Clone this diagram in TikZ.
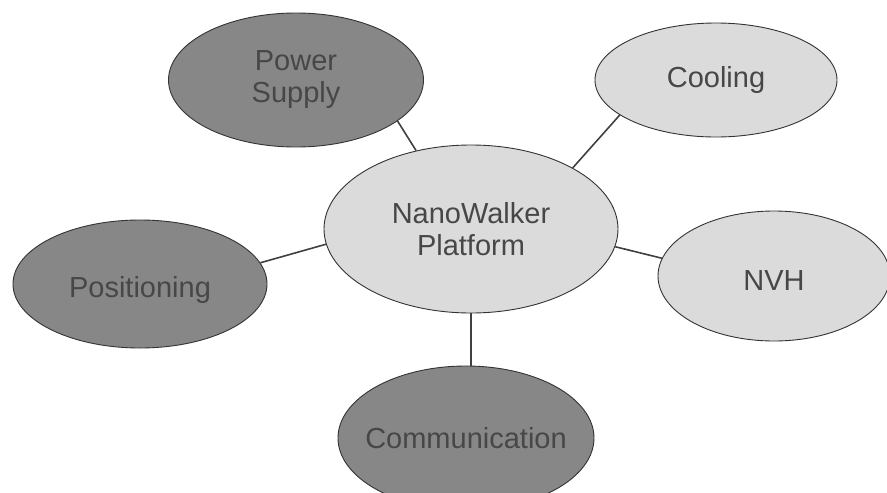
\documentclass[tikz,border=0pt]{standalone}
\usepackage{fontspec}
\setmainfont{Liberation Sans}
\usetikzlibrary{shapes.geometric}

\begin{document}
\begin{tikzpicture}[
  x=1pt, y=-1pt,
  bubble/.style={draw=black!80, ellipse, line width=0.9pt, inner sep=0pt},
  dark/.style={bubble, fill=black!47},
  light/.style={bubble, fill=black!14},
  txt/.style={align=center, text=black!72, font=\fontsize{29}{32}\selectfont},
  link/.style={line width=1.6pt, draw=black!75}
]
\useasboundingbox (0,0) rectangle (887,493);
\clip (0,0) rectangle (887,493);
\node[light, minimum width=294pt, minimum height=168pt, label={[txt]center:{NanoWalker\\Platform}}] (hub) at (471,229) {};
\node[dark, minimum width=255pt, minimum height=134pt, label={[txt]center:{Power\\Supply}}] (power) at (296,80) {};
\node[light, minimum width=242pt, minimum height=114pt, label={[txt]center:Cooling}] (cool) at (716,80) {};
\node[dark, minimum width=254pt, minimum height=128pt, label={[txt,yshift=-6pt]center:Positioning}] (pos) at (140,284) {};
\node[light, minimum width=232pt, minimum height=130pt, label={[txt,yshift=-5pt]center:NVH}] (nvh) at (774,276) {};
\node[dark, minimum width=256pt, minimum height=144pt, label={[txt]center:Communication}] (comm) at (466,438) {};
\draw[link] (power.-22) -- (hub.125);
\draw[link] (cool.200) -- (hub.31);
\draw[link] (pos.10) -- (hub.186);
\draw[link] (hub.-7) -- (nvh.171);
\draw[link] (hub.south) -- (hub.south |- comm.north);
\end{tikzpicture}
\end{document}
